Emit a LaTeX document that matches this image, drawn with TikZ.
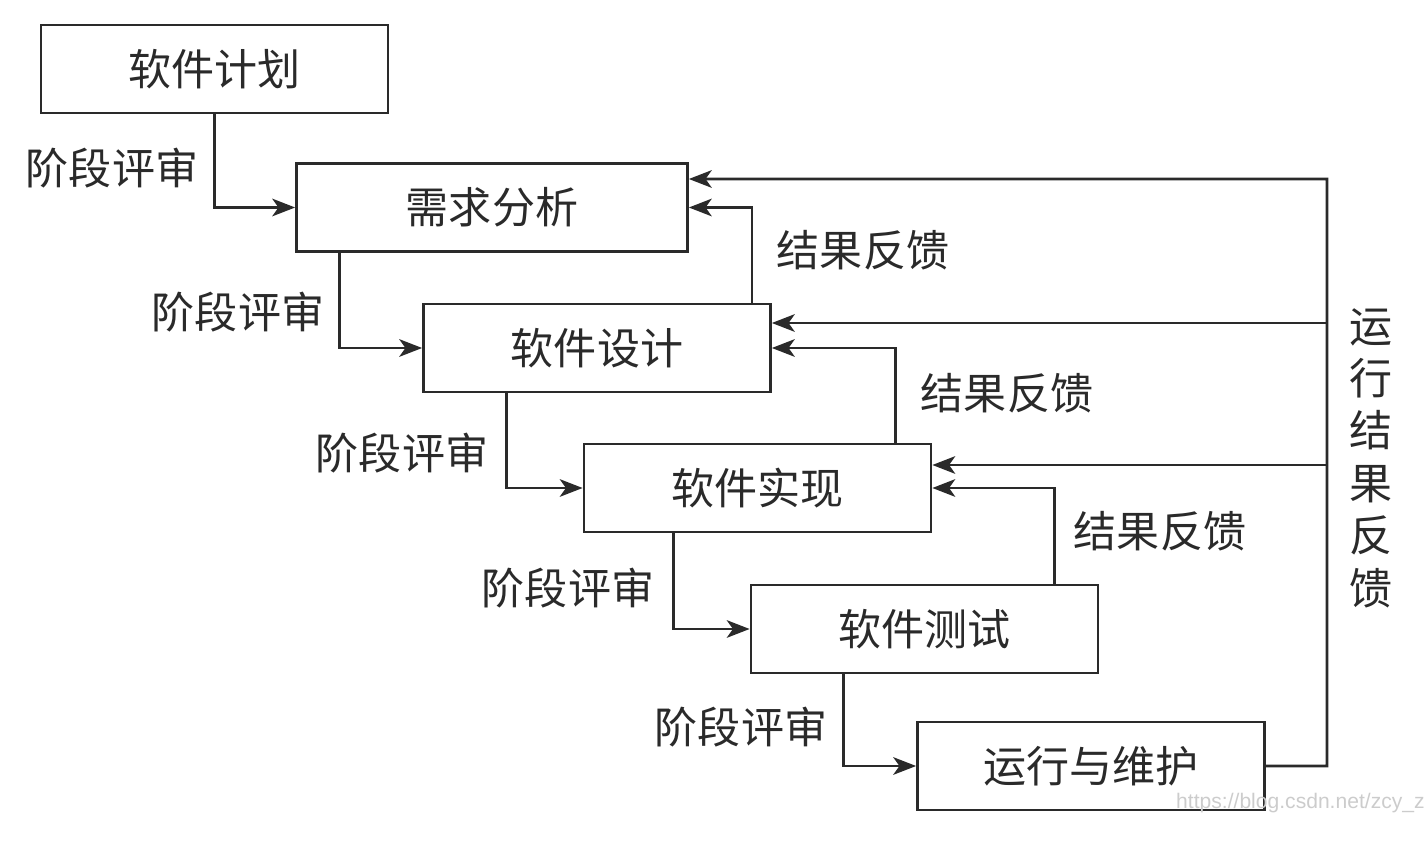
\documentclass[tikz,border=0pt]{standalone}
\usepackage{fontspec}
\newfontfamily\cjk{Noto Sans CJK SC}
\newfontfamily\wm{Liberation Sans}
\usepackage{tikz}
\usetikzlibrary{arrows.meta}
\definecolor{ink}{HTML}{2A2A2A}

\begin{document}
\begin{tikzpicture}[x=0.02cm, y=-0.02cm,
    stage/.style={draw=ink, line width=1.6pt, minimum width=6.94cm, minimum height=1.76cm,
        font=\cjk\fontsize{24.5}{30}\selectfont, text=ink},
    lbl/.style={font=\cjk\fontsize{24.5}{29.8}\selectfont, text=ink},
    link/.style={draw=ink, line width=1.6pt, -{Stealth[length=13pt, width=10pt, inset=3.5pt]}}]
    \useasboundingbox (0,0) rectangle (1424,847);
    \node[stage] (plan) at (214.5,69) {软件计划};
    \node[stage, minimum width=7.82cm] (req) at (492,207.5) {需求分析};
    \node[stage] (design) at (597,348) {软件设计};
    \node[stage] (impl) at (757.5,488) {软件实现};
    \node[stage] (test) at (924.5,629) {软件测试};
    \node[stage] (run) at (1091,766) {运行与维护};
    \node[lbl] (rev1) at (112,168) {阶段评审};
    \node[lbl] (rev2) at (238,312) {阶段评审};
    \node[lbl] (rev3) at (402,453) {阶段评审};
    \node[lbl] (rev4) at (568,588) {阶段评审};
    \node[lbl] (rev5) at (741,727) {阶段评审};
    \node[lbl] (fb1) at (863,250) {结果反馈};
    \node[lbl] (fb2) at (1007,393) {结果反馈};
    \node[lbl] (fb3) at (1160,531) {结果反馈};
    \node[lbl, align=center] (runfb) at (1371,458) {运\\行\\结\\果\\反\\馈};
    \node[anchor=west, text=black!20, font=\wm\fontsize{12}{14}\selectfont] (mark) at (1170,803) {https://blog.csdn.net/zcy\_z};
    \draw [link] (plan.south) |- (req.west);
    \draw [link] ([xshift=0.88cm]req.south west) |- (design.west);
    \draw [link] ([xshift=1.68cm]design.south west) |- (impl.west);
    \draw [link] ([xshift=1.82cm]impl.south west) |- (test.west);
    \draw [link] ([xshift=1.88cm]test.south west) |- (run.west);
    \draw [link] ([xshift=6.6cm]design.north west) |- (req.east);
    \draw [link] ([xshift=6.26cm]impl.north west) |- (design.east);
    \draw [link] ([xshift=6.1cm]test.north west) |- (impl.east);
    \coordinate (back) at (1327,179);
    \coordinate (in3) at ([yshift=0.5cm]design.east);
    \coordinate (in4) at ([yshift=0.46cm]impl.east);
    \draw [link] (run.east) -| (back) -- ([yshift=0.57cm]req.east);
    \draw [link] (back |- in3) -- (in3);
    \draw [link] (back |- in4) -- (in4);
\end{tikzpicture}
\end{document}
